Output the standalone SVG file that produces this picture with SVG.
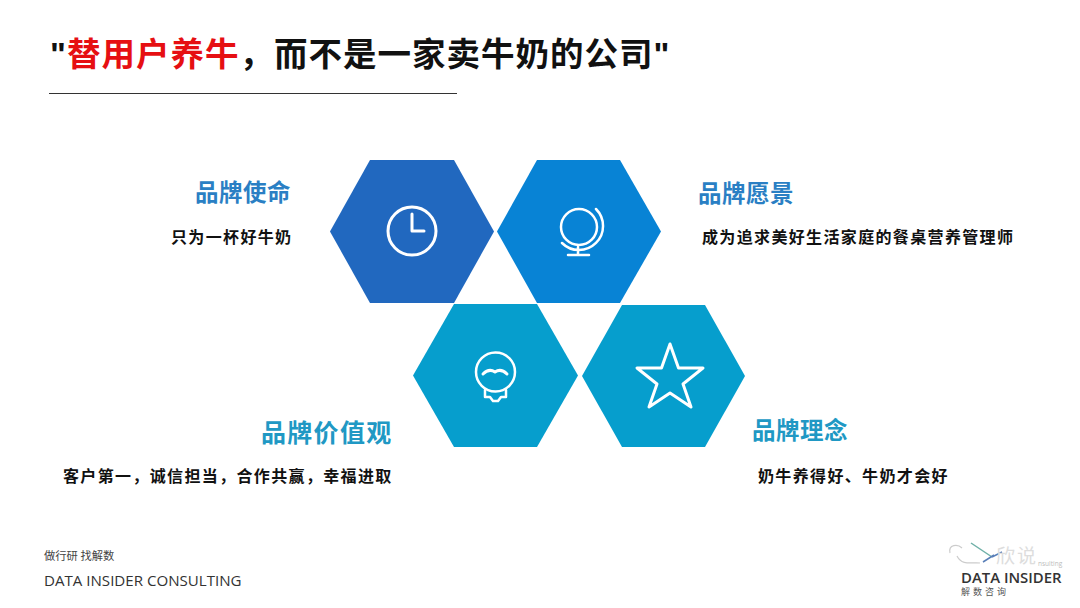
<svg xmlns="http://www.w3.org/2000/svg" width="1080" height="608" viewBox="0 0 1080 608">
<style>
text{font-family:"Noto Sans CJK SC","Noto Sans",sans-serif}
.lat{font-family:"Liberation Sans",sans-serif}
.os{font-family:"Open Sans",sans-serif}
.t{font-size:33.500px;font-weight:700;fill:#111;letter-spacing:1px}
.h{font-size:23.500px;font-weight:700;letter-spacing:.5px}
.s{font-size:16px;font-weight:700;fill:#111;letter-spacing:1.350px}
.i{fill:none;stroke:#fff;stroke-width:3;stroke-linecap:round;stroke-linejoin:round}
.g{stroke-width:2.500}
</style>
<rect width="1080" height="608" fill="#fff"/>
<g id="title">
<text class="t" x="50" y="66"><tspan class="lat">"</tspan><tspan fill="#e60f12">替用户养牛</tspan>，而不是一家卖牛奶的公司<tspan class="lat">"</tspan></text>
<line x1="49" y1="93.500" x2="457" y2="93.500" stroke="#333" stroke-width="1"/>
</g>
<g id="hex-mission">
<polygon points="370,160 454,160 494,231.500 454,303 370,303 330,231.500" fill="#2168bf"/>
<circle class="i" cx="412" cy="231" r="24"/><path class="i" d="M412,214V231H424"/>
</g>
<g id="hex-vision">
<polygon points="537,160 620,160 661,231.500 620,303 537,303 497,231.500" fill="#0883d5"/>
<circle class="i g" cx="579" cy="227" r="18"/>
<path class="i g" d="M596,209A22.500,22.500 0 0 1 562,243M578,247V255M568,255H589"/>
</g>
<g id="hex-values">
<polygon points="454,304 537,304 578,375.500 537,447 454,447 413,375.500" fill="#069ecd"/>
<circle class="i g" cx="495.500" cy="372" r="19.500"/>
<path class="i g" d="M485,390V397H490L493,401H498L501,397H506V390"/>
<path class="i" stroke-width="1.800" d="M483,374Q489,368 495,372Q501,368 507,374"/>
</g>
<g id="hex-concept">
<polygon points="622,305 705,305 745,376 705,447 622,447 582,376" fill="#069ecd"/>
<polygon class="i" points="670,344 678.500,368 703,368 683,384 691,407 670,393 649,407 657,384 637,368 661.500,368"/>
</g>
<g id="label-mission">
<text class="h" x="195" y="201" fill="#2a7fc4">品牌使命</text>
<text class="s" x="171" y="243">只为一杯好牛奶</text>
</g>
<g id="label-vision">
<text class="h" x="698" y="202" fill="#2a7fc4">品牌愿景</text>
<text class="s" x="702" y="243">成为追求美好生活家庭的餐桌营养管理师</text>
</g>
<g id="label-values">
<text class="h" x="261" y="442" fill="#2098c4" style="font-size:25px;letter-spacing:1.300px">品牌价值观</text>
<text class="s" x="63" y="482">客户第一，诚信担当，合作共赢，幸福进取</text>
</g>
<g id="label-concept">
<text class="h" x="752" y="439" fill="#2098c4">品牌理念</text>
<text class="s" x="758" y="482">奶牛养得好、牛奶才会好</text>
</g>
<g id="footer">
<text x="44" y="560" font-size="11.300" fill="#444">做行研 找解数</text>
<text class="os" x="44" y="586" font-size="15.100" fill="#333">DATA INSIDER CONSULTING</text>
</g>
<g id="logo">
<path d="M971,543L992,557" fill="none" stroke="#6fb0a8" stroke-width="1.500"/>
<path d="M992,557L1002,552M983,562L994,555" fill="none" stroke="#5a7fb8" stroke-width="1.500"/>
<path d="M950,553C948,544 958,544 962,548M957,556C962,566 972,562 980,563" fill="none" stroke="#ccc" stroke-width="1.200"/>
<text x="996" y="563" font-size="19" fill="#ddd" letter-spacing="2">欣说</text>
<text x="1038" y="566" font-size="6.500" fill="#bbb" class="os">nsulting</text>
<text class="os" x="961" y="582.500" font-size="14.900" font-weight="600" fill="#333">DATA INSIDER</text>
<text x="961" y="595" font-size="9" fill="#555" letter-spacing="3">解数咨询</text>
</g>
</svg>
